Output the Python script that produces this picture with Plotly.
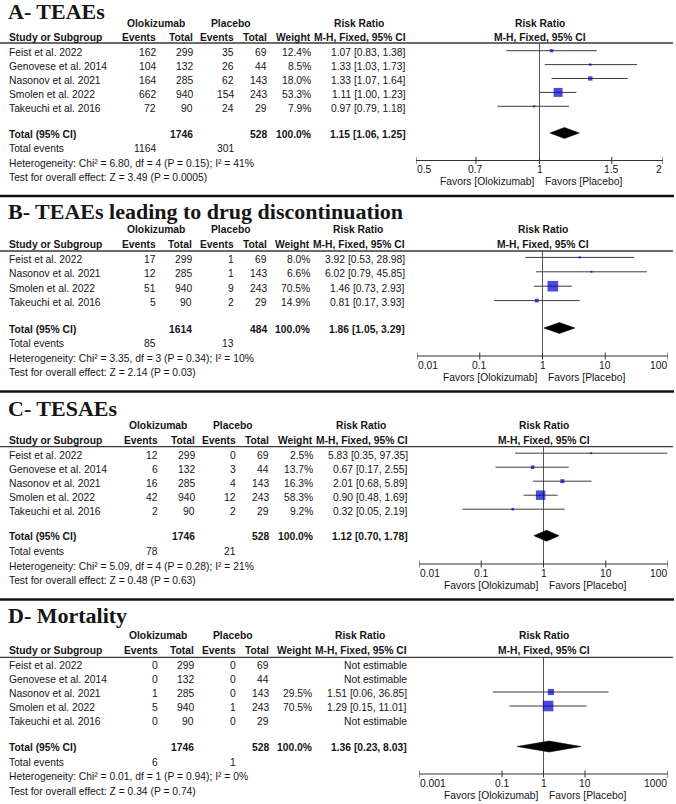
import math
import plotly.graph_objects as go

W, H = 676, 804

# ---------------- data ----------------
# A - TEAEs
studies_A = ["Feist et al. 2022", "Genovese et al. 2014", "Nasonov et al. 2021", "Smolen et al. 2022", "Takeuchi et al. 2016"]
olok_events_A = [162, 104, 164, 662, 72]
olok_total_A = [299, 132, 285, 940, 90]
plac_events_A = [35, 26, 62, 154, 24]
plac_total_A = [69, 44, 143, 243, 29]
weight_A = [12.4, 8.5, 18.0, 53.3, 7.9]
rr_A = [1.07, 1.33, 1.33, 1.11, 0.97]
rr_low_A = [0.83, 1.03, 1.07, 1.00, 0.79]
rr_high_A = [1.38, 1.73, 1.64, 1.23, 1.18]
pooled_A = [1.15, 1.06, 1.25]
group_totals_A = [1746, 528]
total_events_A = [1164, 301]
het_A = "Heterogeneity: Chi² = 6.80, df = 4 (P = 0.15); I² = 41%"
test_A = "Test for overall effect: Z = 3.49 (P = 0.0005)"
ticks_A = [0.5, 0.7, 1, 1.5, 2]
tick_labels_A = ["0.5", "0.7", "1", "1.5", "2"]

# B - TEAEs leading to drug discontinuation
studies_B = ["Feist et al. 2022", "Nasonov et al. 2021", "Smolen et al. 2022", "Takeuchi et al. 2016"]
olok_events_B = [17, 12, 51, 5]
olok_total_B = [299, 285, 940, 90]
plac_events_B = [1, 1, 9, 2]
plac_total_B = [69, 143, 243, 29]
weight_B = [8.0, 6.6, 70.5, 14.9]
rr_B = [3.92, 6.02, 1.46, 0.81]
rr_low_B = [0.53, 0.79, 0.73, 0.17]
rr_high_B = [28.98, 45.85, 2.93, 3.93]
pooled_B = [1.86, 1.05, 3.29]
group_totals_B = [1614, 484]
total_events_B = [85, 13]
het_B = "Heterogeneity: Chi² = 3.35, df = 3 (P = 0.34); I² = 10%"
test_B = "Test for overall effect: Z = 2.14 (P = 0.03)"
ticks_B = [0.01, 0.1, 1, 10, 100]
tick_labels_B = ["0.01", "0.1", "1", "10", "100"]

# C - TESAEs
studies_C = ["Feist et al. 2022", "Genovese et al. 2014", "Nasonov et al. 2021", "Smolen et al. 2022", "Takeuchi et al. 2016"]
olok_events_C = [12, 6, 16, 42, 2]
olok_total_C = [299, 132, 285, 940, 90]
plac_events_C = [0, 3, 4, 12, 2]
plac_total_C = [69, 44, 143, 243, 29]
weight_C = [2.5, 13.7, 16.3, 58.3, 9.2]
rr_C = [5.83, 0.67, 2.01, 0.90, 0.32]
rr_low_C = [0.35, 0.17, 0.68, 0.48, 0.05]
rr_high_C = [97.35, 2.55, 5.89, 1.69, 2.19]
pooled_C = [1.12, 0.70, 1.78]
group_totals_C = [1746, 528]
total_events_C = [78, 21]
het_C = "Heterogeneity: Chi² = 5.09, df = 4 (P = 0.28); I² = 21%"
test_C = "Test for overall effect: Z = 0.48 (P = 0.63)"
ticks_C = [0.01, 0.1, 1, 10, 100]
tick_labels_C = ["0.01", "0.1", "1", "10", "100"]

# D - Mortality
studies_D = ["Feist et al. 2022", "Genovese et al. 2014", "Nasonov et al. 2021", "Smolen et al. 2022", "Takeuchi et al. 2016"]
olok_events_D = [0, 0, 1, 5, 0]
olok_total_D = [299, 132, 285, 940, 90]
plac_events_D = [0, 0, 0, 1, 0]
plac_total_D = [69, 44, 143, 243, 29]
weight_D = [None, None, 29.5, 70.5, None]
rr_D = [None, None, 1.51, 1.29, None]
rr_low_D = [None, None, 0.06, 0.15, None]
rr_high_D = [None, None, 36.85, 11.01, None]
pooled_D = [1.36, 0.23, 8.03]
group_totals_D = [1746, 528]
total_events_D = [6, 1]
het_D = "Heterogeneity: Chi² = 0.01, df = 1 (P = 0.94); I² = 0%"
test_D = "Test for overall effect: Z = 0.34 (P = 0.74)"
ticks_D = [0.001, 0.1, 1, 10, 1000]
tick_labels_D = ["0.001", "0.1", "1", "10", "1000"]

titles = ["A- TEAEs", "B- TEAEs leading to drug discontinuation", "C- TESAEs", "D- Mortality"]

# ---------------- layout (pixel positions) ----------------
panels = [
    dict(title=titles[0], studies=studies_A, oe=olok_events_A, ot=olok_total_A, pe=plac_events_A, pt=plac_total_A,
         w=weight_A, rr=rr_A, lo=rr_low_A, hi=rr_high_A, pooled=pooled_A, gt=group_totals_A, te=total_events_A,
         het=het_A, test=test_A, ticks=ticks_A, tlabels=tick_labels_A,
         title_y=11.5, grp_y=23.3, hdr_y=37, line_y=43, row0=52.5, step=13.9, total_y=134, axis_y=160.5,
         dx=0, ax_l=416, ax_r=663),
    dict(title=titles[1], studies=studies_B, oe=olok_events_B, ot=olok_total_B, pe=plac_events_B, pt=plac_total_B,
         w=weight_B, rr=rr_B, lo=rr_low_B, hi=rr_high_B, pooled=pooled_B, gt=group_totals_B, te=total_events_B,
         het=het_B, test=test_B, ticks=ticks_B, tlabels=tick_labels_B,
         title_y=211, grp_y=229.5, hdr_y=244, line_y=251, row0=259.2, step=14.4, total_y=329, axis_y=356,
         dx=-0.5, ax_l=417, ax_r=668),
    dict(title=titles[2], studies=studies_C, oe=olok_events_C, ot=olok_total_C, pe=plac_events_C, pt=plac_total_C,
         w=weight_C, rr=rr_C, lo=rr_low_C, hi=rr_high_C, pooled=pooled_C, gt=group_totals_C, te=total_events_C,
         het=het_C, test=test_C, ticks=ticks_C, tlabels=tick_labels_C,
         title_y=408, grp_y=425.8, hdr_y=440.2, line_y=446.7, row0=455, step=14.0, total_y=536.7, axis_y=564,
         dx=2, ax_l=419, ax_r=668),
    dict(title=titles[3], studies=studies_D, oe=olok_events_D, ot=olok_total_D, pe=plac_events_D, pt=plac_total_D,
         w=weight_D, rr=rr_D, lo=rr_low_D, hi=rr_high_D, pooled=pooled_D, gt=group_totals_D, te=total_events_D,
         het=het_D, test=test_D, ticks=ticks_D, tlabels=tick_labels_D,
         title_y=615.5, grp_y=635.5, hdr_y=650.8, line_y=657.3, row0=665.8, step=14.0, total_y=747.5, axis_y=774,
         dx=1.5, ax_l=419, ax_r=668),
]
separators = [196, 391.5, 599.5]

# column right edges (px)
COL_NAME = 8
COL_EV, COL_TOT, COL_PEV, COL_PTOT, COL_WT, COL_RR = 157, 193.5, 235, 268, 311.7, 406.5
COL_OLOK_C, COL_PLAC_C = 156, 231

SANS = "Liberation Sans, Arial, sans-serif"
SERIF = "Liberation Serif, Times New Roman, serif"
TXT = "#151515"
FS = 10.3
BLUE = "#0000CC"

fig = go.Figure()
annotations = []
shapes = []


def text(x, y, s, anchor="left", bold=False, size=FS, family=SANS, xref="paper", xshift=0):
    annotations.append(dict(
        x=(x / W) if xref == "paper" else x, y=y, xref=xref, yref="y",
        text=("<b>%s</b>" % s) if bold else s, showarrow=False,
        xanchor=anchor, yanchor="middle", xshift=xshift,
        font=dict(family=family, size=size, color=TXT), borderpad=0,
    ))


layout_axes = {}
for k, p in enumerate(panels):
    xa = "x" if k == 0 else "x%d" % (k + 1)
    axname = "xaxis" if k == 0 else "xaxis%d" % (k + 1)
    tmin, tmax = p["ticks"][0], p["ticks"][-1]
    layout_axes[axname] = dict(
        type="log", range=[math.log10(tmin), math.log10(tmax)],
        domain=[p["ax_l"] / W, p["ax_r"] / W], anchor="y", visible=False, fixedrange=True,
    )
    dx = p["dx"]
    # title
    text(COL_NAME - 1, p["title_y"], p["title"], bold=True, size=22, family=SERIF)
    # group headers
    text(COL_OLOK_C + dx, p["grp_y"], "Olokizumab", anchor="center", bold=True)
    text(COL_PLAC_C + dx, p["grp_y"], "Placebo", anchor="center", bold=True)
    text(COL_RR + dx - 48, p["grp_y"], "Risk Ratio", anchor="center", bold=True)
    # column headers
    text(COL_NAME, p["hdr_y"], "Study or Subgroup", bold=True)
    text(COL_EV + dx, p["hdr_y"], "Events", anchor="right", bold=True)
    text(COL_TOT + dx, p["hdr_y"], "Total", anchor="right", bold=True)
    text(COL_PEV + dx, p["hdr_y"], "Events", anchor="right", bold=True)
    text(COL_PTOT + dx, p["hdr_y"], "Total", anchor="right", bold=True)
    text(COL_WT + dx, p["hdr_y"], "Weight", anchor="right", bold=True)
    text(COL_RR + dx, p["hdr_y"], "M-H, Fixed, 95% CI", anchor="right", bold=True)
    # plot headers (centered on RR = 1)
    text(0, p["grp_y"], "Risk Ratio", anchor="center", bold=True, xref=xa)
    text(0, p["hdr_y"], "M-H, Fixed, 95% CI", anchor="center", bold=True, xref=xa)
    # header rule
    shapes.append(dict(type="line", xref="paper", yref="y", x0=0, x1=673 / W, y0=p["line_y"], y1=p["line_y"],
                       line=dict(color="#3a3a3a", width=1.3)))

    rows = [p["row0"] + i * p["step"] for i in range(len(p["studies"]))]
    for i, r in enumerate(rows):
        text(COL_NAME, r, p["studies"][i])
        text(COL_EV + dx, r, str(p["oe"][i]), anchor="right")
        text(COL_TOT + dx, r, str(p["ot"][i]), anchor="right")
        text(COL_PEV + dx, r, str(p["pe"][i]), anchor="right")
        text(COL_PTOT + dx, r, str(p["pt"][i]), anchor="right")
        if p["w"][i] is not None:
            text(COL_WT + dx, r, "%.1f%%" % p["w"][i], anchor="right")
            text(COL_RR + dx, r, "%.2f [%.2f, %.2f]" % (p["rr"][i], p["lo"][i], p["hi"][i]), anchor="right")
        else:
            text(COL_RR + dx, r, "Not estimable", anchor="right")

    ty = p["total_y"]
    text(COL_NAME, ty, "Total (95% CI)", bold=True)
    text(COL_TOT + dx, ty, str(p["gt"][0]), anchor="right", bold=True)
    text(COL_PTOT + dx, ty, str(p["gt"][1]), anchor="right", bold=True)
    text(COL_WT + dx, ty, "100.0%", anchor="right", bold=True)
    text(COL_RR + dx, ty, "%.2f [%.2f, %.2f]" % tuple(p["pooled"]), anchor="right", bold=True)
    text(COL_NAME, ty + 14.5, "Total events")
    text(COL_EV + dx, ty + 14.5, str(p["te"][0]), anchor="right")
    text(COL_PEV + dx, ty + 14.5, str(p["te"][1]), anchor="right")
    text(COL_NAME, ty + 29.3, p["het"])
    text(COL_NAME, ty + 43.8, p["test"])

    # ---- forest plot ----
    ay = p["axis_y"]
    common = dict(xaxis=xa, yaxis="y", showlegend=False, hoverinfo="skip", cliponaxis=False)
    # line of no effect
    fig.add_trace(go.Scatter(x=[1, 1], y=[p["line_y"], ay], mode="lines",
                             line=dict(color="#555555", width=1), **common))
    # CI lines
    cx, cy = [], []
    for i, r in enumerate(rows):
        if p["rr"][i] is None:
            continue
        cx += [p["lo"][i], p["hi"][i], None]
        cy += [r - 1.8, r - 1.8, None]
    fig.add_trace(go.Scatter(x=cx, y=cy, mode="lines", line=dict(color="#3c3c3c", width=1), **common))
    # study boxes
    mx, my, ms = [], [], []
    for i, r in enumerate(rows):
        if p["rr"][i] is None:
            continue
        mx.append(p["rr"][i])
        my.append(r - 1.8)
        ms.append(max(2.0, 1.5 * math.sqrt(p["w"][i]) - 2.0))
    fig.add_trace(go.Scatter(x=mx, y=my, mode="markers",
                             marker=dict(symbol="square", size=ms, color=BLUE, line=dict(width=0)), **common))
    # pooled diamond
    est, lo, hi = p["pooled"]
    dy = ty - 1
    fig.add_trace(go.Scatter(x=[lo, est, hi, est, lo], y=[dy, dy - 5.5, dy, dy + 5.5, dy], mode="lines",
                             fill="toself", fillcolor="black", line=dict(color="black", width=0.5), **common))
    # x axis line and ticks
    fig.add_trace(go.Scatter(x=[p["ticks"][0], p["ticks"][-1]], y=[ay, ay], mode="lines",
                             line=dict(color="#333333", width=1), **common))
    tx, tyy = [], []
    for t in p["ticks"]:
        tx += [t, t, None]
        tyy += [ay - 3.5, ay + 3.5, None]
    fig.add_trace(go.Scatter(x=tx, y=tyy, mode="lines", line=dict(color="#333333", width=1), **common))
    n = len(p["ticks"])
    for j, (t, lab) in enumerate(zip(p["ticks"], p["tlabels"])):
        anc = "left" if j == 0 else ("right" if j == n - 1 else "center")
        text(math.log10(t), ay + 9.3, lab, anchor=anc, xref=xa)
    text(0, ay + 21, "Favors [Olokizumab]", anchor="right", xref=xa, xshift=-4)
    text(0, ay + 21, "Favors [Placebo]", anchor="left", xref=xa, xshift=4)

for s in separators:
    shapes.append(dict(type="line", xref="paper", yref="y", x0=0, x1=674 / W, y0=s, y1=s,
                       line=dict(color="#111111", width=2.5)))

fig.update_layout(
    width=W, height=H,
    margin=dict(l=0, r=0, t=0, b=0, pad=0, autoexpand=False),
    paper_bgcolor="white", plot_bgcolor="rgba(0,0,0,0)",
    font=dict(family=SANS, size=FS, color=TXT),
    yaxis=dict(domain=[0, 1], range=[H, 0], visible=False, fixedrange=True, anchor="x"),
    annotations=annotations, shapes=shapes, showlegend=False,
    **layout_axes,
)

fig.write_html("out.html", config={"displayModeBar": False},
               post_script="document.body.style.margin='0';document.body.style.overflow='hidden';")
